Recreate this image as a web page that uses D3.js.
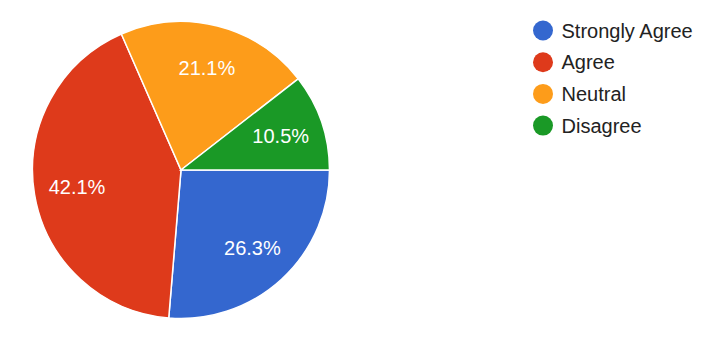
<!DOCTYPE html>
<html>
<head>
<meta charset="utf-8">
<script src="https://cdn.jsdelivr.net/npm/d3@7"></script>
<style>
  html, body { margin: 0; padding: 0; background: #ffffff; }
  svg { display: block; font-family: "Liberation Sans", Arial, sans-serif; }
</style>
</head>
<body>
<script>
// answer categories, in drawing order (clockwise from 3 o'clock)
const categories = ["Strongly Agree", "Agree", "Neutral", "Disagree"];
// number of responses per category (19 in total)
const counts = [5, 8, 4, 2];
// slice colours
const colors = ["#3467cf", "#de3a1b", "#fd9c1a", "#1a9926"];

const WIDTH = 708;
const HEIGHT = 354;

// pie geometry
const CX = 181;
const CY = 170;
const RADIUS = 148.5;
const LABEL_RADIUS = RADIUS * 0.71;

// legend geometry
const LEGEND_X = 543;
const LEGEND_Y = 30.5;
const LEGEND_STEP = 31.7;

const svg = d3.select("body")
    .append("svg")
    .attr("width", WIDTH)
    .attr("height", HEIGHT);

const total = d3.sum(counts);

const color = d3.scaleOrdinal()
    .domain(categories)
    .range(colors);

const pie = d3.pie()
    .value(d => d.count)
    .sort(null)
    .startAngle(Math.PI / 2)
    .endAngle(Math.PI / 2 + 2 * Math.PI);

const arc = d3.arc()
    .innerRadius(0)
    .outerRadius(RADIUS);

const labelArc = d3.arc()
    .innerRadius(LABEL_RADIUS)
    .outerRadius(LABEL_RADIUS);

const data = categories.map((c, i) => ({ name: c, count: counts[i] }));
const arcs = pie(data);

const g = svg.append("g")
    .attr("transform", `translate(${CX},${CY})`);

// slices
g.selectAll("path.slice")
    .data(arcs)
    .enter()
    .append("path")
    .classed("slice", true)
    .attr("d", arc)
    .style("fill", d => color(d.data.name))
    .style("stroke", "#ffffff")
    .style("stroke-width", 1.5);

// percentage labels
g.selectAll("text.pct")
    .data(arcs)
    .enter()
    .append("text")
    .classed("pct", true)
    .attr("transform", d => `translate(${labelArc.centroid(d)})`)
    .attr("text-anchor", "middle")
    .attr("dominant-baseline", "central")
    .style("font-size", "20px")
    .style("fill", "#ffffff")
    .text(d => (d.data.count / total * 100).toFixed(1) + "%");

// legend
const legend = svg.selectAll("g.legend")
    .data(categories)
    .enter()
    .append("g")
    .classed("legend", true)
    .attr("transform", (d, i) => `translate(${LEGEND_X},${LEGEND_Y + i * LEGEND_STEP})`);

legend.append("circle")
    .attr("r", 10)
    .style("fill", d => color(d));

legend.append("text")
    .attr("x", 18.5)
    .attr("dominant-baseline", "central")
    .style("font-size", "20px")
    .style("fill", "#222222")
    .text(d => d);
</script>
</body>
</html>
